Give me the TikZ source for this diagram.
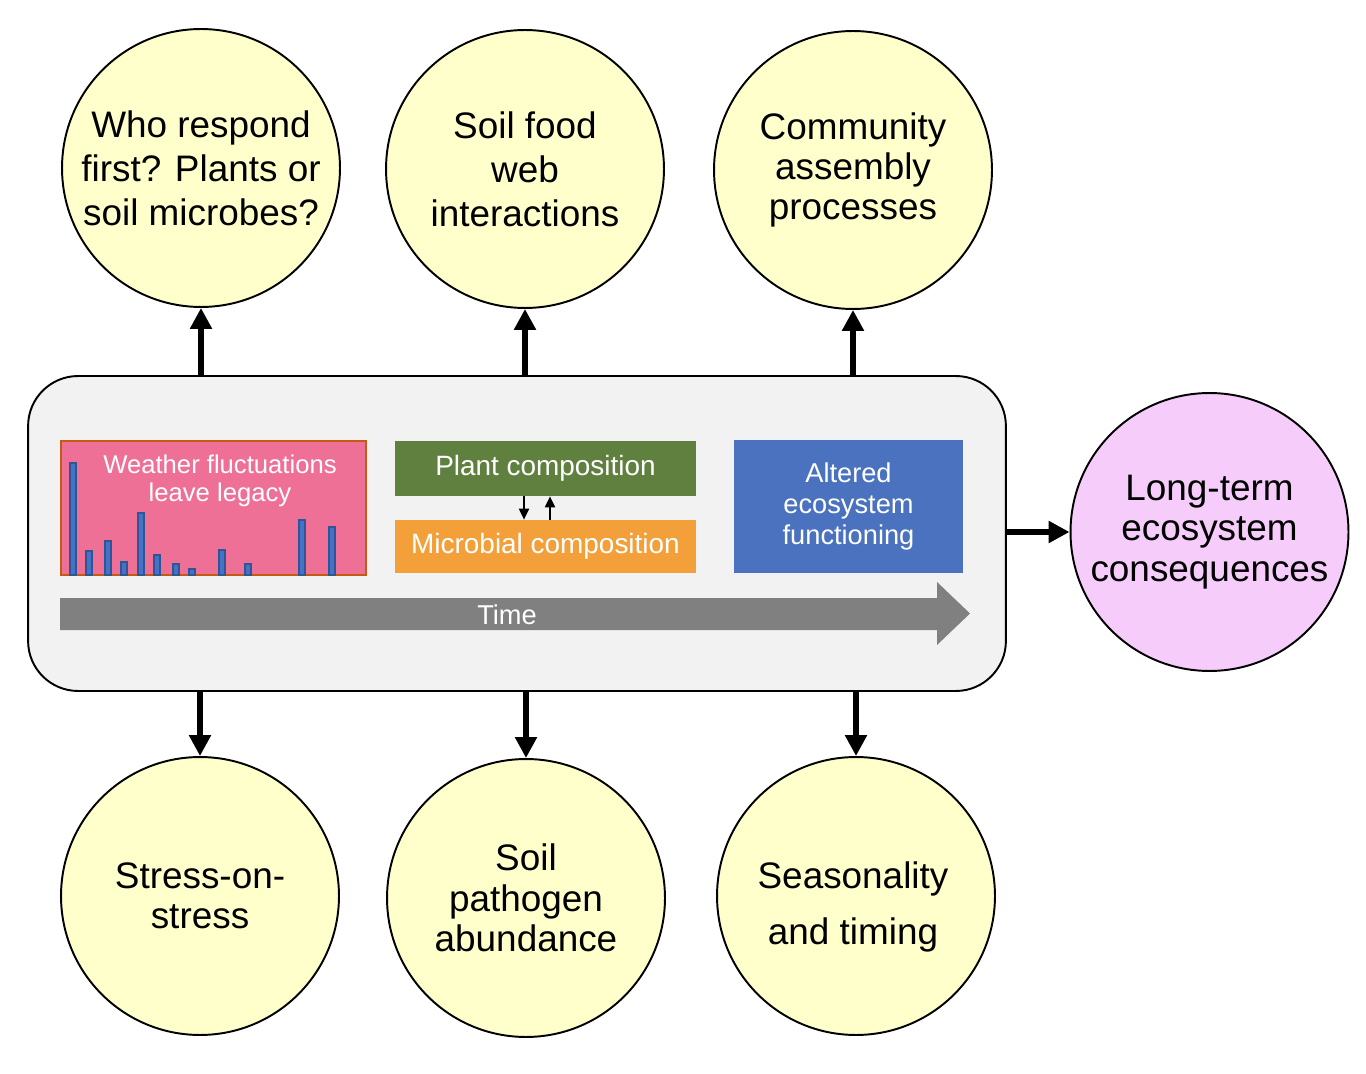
\documentclass[tikz,border=0pt]{standalone}
\usepackage{fontspec}
\setmainfont{Liberation Sans}
\usetikzlibrary{arrows.meta}

\definecolor{qyellow}{HTML}{FFFFCC}
\definecolor{qpink}{HTML}{F5CCFA}
\definecolor{framegray}{HTML}{F2F2F2}
\definecolor{wxpink}{HTML}{EE7096}
\definecolor{wxedge}{HTML}{C55A11}
\definecolor{plantgreen}{HTML}{5F803F}
\definecolor{microbeorange}{HTML}{F4A03A}
\definecolor{funcblue}{HTML}{4A72BF}
\definecolor{barblue}{HTML}{4472C4}
\definecolor{baredge}{HTML}{2F5597}
\definecolor{timegray}{HTML}{808080}

\begin{document}
\begin{tikzpicture}[x=0.02cm, y=-0.02cm,
    question/.style={circle, draw=black, line width=1.1pt, fill=qyellow, minimum size=5.56cm,
        inner sep=0pt, align=center, font=\fontsize{21}{23}\selectfont},
    bigarrow/.style={line width=3.4pt, -{Triangle[length=0.42cm, width=0.42cm]}},
    smallarrow/.style={line width=1.1pt, -{Triangle[length=0.22cm, width=0.2cm]}},
    colbox/.style={rectangle, inner sep=0pt, text=white, align=center}]
    \useasboundingbox (0,0) rectangle (1366,1074);

    % Central frame
    \node[draw=black, line width=1.1pt, fill=framegray, rounded corners=1cm,
        minimum width=19.56cm, minimum height=6.3cm] (frame) at (517,533.5) {};

    % Questions above
    \node[question, font=\fontsize{21}{25}\selectfont] (who) at (201,168) {Who respond\\first? Plants or\\soil microbes?};
    \node[question, font=\fontsize{21}{25}\selectfont] (foodweb) at (525,169) {Soil food\\web\\interactions};
    \node[question] (assembly) at (853,170) {Community\\assembly\\processes};

    % Questions below
    \node[question] (stress) at (200,896) {Stress-on-\\stress};
    \node[question] (pathogen) at (526,898) {Soil\\pathogen\\abundance};
    \node[question] (season) at (856,896) {};
    \node[align=center, font=\fontsize{21}{23}\selectfont] (seasontext) at (853,907)
        {Seasonality\\[0.32cm]and timing};

    % Outcome
    \node[question, fill=qpink] (longterm) at (1209.5,532) {Long-term\\ecosystem\\consequences};

    \draw[bigarrow] (frame.north -| who.south) -- (who.south);
    \draw[bigarrow] (frame.north -| foodweb.south) -- (foodweb.south);
    \draw[bigarrow] (frame.north -| assembly.south) -- (assembly.south);
    \draw[bigarrow] (frame.south -| stress.north) -- (stress.north);
    \draw[bigarrow] (frame.south -| pathogen.north) -- (pathogen.north);
    \draw[bigarrow] (frame.south -| season.north) -- (season.north);
    \draw[bigarrow] (frame.east |- longterm.west) -- (longterm.west);

    % Weather legacy with rainfall bars
    \node[colbox, fill=wxpink, draw=wxedge, line width=0.8pt, minimum width=6.1cm,
        minimum height=2.68cm] (weather) at (213.5,508) {};
    \node[text=white, align=center, font=\fontsize{14.6}{16}\selectfont] (weathertext) at (220,481)
        {Weather fluctuations\\leave legacy};
    \foreach \x/\h in {73/463, 89/551, 108/541, 124/562, 141/513, 157/555,
                       176/564, 192/569, 222/550, 248/564, 302/520, 332/527} {
        \draw[fill=barblue, draw=baredge, line width=0.6pt] (\x-3,575) rectangle (\x+3,\h);
    }

    % Plant and microbial composition
    \node[colbox, fill=plantgreen, minimum width=6.02cm, minimum height=1.1cm,
        font=\fontsize{15.9}{18}\selectfont] (plant) at (545.5,468.5) {Plant composition};
    \node[colbox, fill=microbeorange, minimum width=6.02cm, minimum height=1.06cm,
        font=\fontsize{15.9}{18}\selectfont] (microbe) at (545.5,546.5) {Microbial composition};
    \draw[smallarrow] ([xshift=-0.43cm]plant.south) -- ([xshift=-0.43cm]microbe.north);
    \draw[smallarrow] ([xshift=0.09cm]microbe.north) -- ([xshift=0.09cm]plant.south);

    % Ecosystem functioning
    \node[colbox, fill=funcblue, minimum width=4.58cm, minimum height=2.66cm,
        font=\fontsize{15.5}{17.4}\selectfont] (func) at (848.5,506.5) {Altered\\ecosystem\\functioning};

    % Time axis
    \fill[timegray] (60,598) -- (937,598) -- (937,582) -- (970,613.5) -- (937,645)
        -- (937,630) -- (60,630) -- cycle;
    \node[text=white, font=\fontsize{15.5}{18}\selectfont] (time) at (507,615) {Time};
\end{tikzpicture}
\end{document}
